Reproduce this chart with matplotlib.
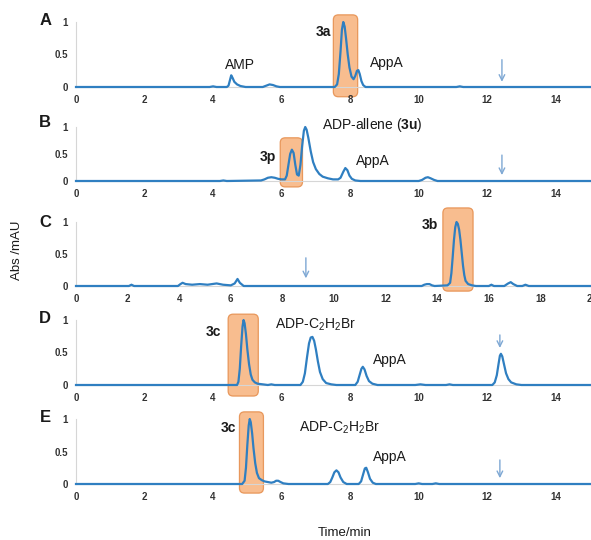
import matplotlib

matplotlib.use("Agg")
import matplotlib.pyplot as plt
from matplotlib.patches import FancyBboxPatch

plt.rcParams["font.family"] = ["Liberation Sans", "DejaVu Sans"]
plt.rcParams["mathtext.fontset"] = "custom"
plt.rcParams["mathtext.rm"] = "Liberation Sans"
plt.rcParams["mathtext.bf"] = "Liberation Sans:bold"
plt.rcParams["mathtext.default"] = "rm"

# chromatogram traces (time/min, abs)
a_time = [0, 3.9, 4.0, 4.1, 4.4, 4.45, 4.5, 4.53, 4.57, 4.62, 4.7, 4.8, 4.95,
          5.45, 5.55, 5.65, 5.75, 5.85, 5.95,
          7.55, 7.62, 7.67, 7.72, 7.76, 7.8, 7.84, 7.88, 7.93, 7.98, 8.04, 8.1, 8.15, 8.2,
          8.24, 8.28, 8.33, 8.38, 8.45, 11.1, 11.2, 11.3, 15]
a_abs = [0, 0, 0.01, 0, 0, 0.02, 0.12, 0.18, 0.14, 0.08, 0.04, 0.015, 0,
         0, 0.02, 0.04, 0.03, 0.01, 0,
         0, 0.04, 0.2, 0.55, 0.88, 1.0, 0.93, 0.75, 0.5, 0.3, 0.16, 0.12, 0.17, 0.25,
         0.26, 0.2, 0.09, 0.03, 0, 0, 0.01, 0, 0]

b_time = [0, 4.2, 4.3, 4.4, 5.4, 5.5, 5.6, 5.7, 5.8, 5.9, 6.0, 6.1, 6.15, 6.2, 6.25, 6.3,
          6.35, 6.4, 6.45, 6.5, 6.55, 6.6, 6.65, 6.69, 6.73, 6.78, 6.85, 6.92, 7.0, 7.1,
          7.2, 7.35, 7.5, 7.65, 7.72, 7.8, 7.86, 7.92, 7.98, 8.05, 8.15, 8.3,
          10.0, 10.1, 10.2, 10.27, 10.35, 10.45, 10.55, 15]
b_abs = [0, 0, 0.01, 0, 0.01, 0.03, 0.06, 0.07, 0.06, 0.04, 0.03, 0.03, 0.1, 0.3, 0.5, 0.58,
         0.52, 0.3, 0.12, 0.1, 0.3, 0.65, 0.93, 1.0, 0.95, 0.8, 0.55, 0.35, 0.22, 0.13,
         0.08, 0.05, 0.03, 0.03, 0.06, 0.17, 0.24, 0.2, 0.1, 0.04, 0.01, 0,
         0, 0.02, 0.06, 0.07, 0.05, 0.02, 0, 0]

c_time = [0, 2.05, 2.15, 2.25, 3.95, 4.05, 4.13, 4.25, 4.5, 4.8, 5.1, 5.45, 5.7, 6.0, 6.15,
          6.26, 6.35, 6.5, 13.4, 13.5, 13.6, 13.7, 13.8, 13.9, 14.4, 14.5, 14.55, 14.6,
          14.65, 14.7, 14.75, 14.8, 14.85, 14.9, 14.95, 15.0, 15.05, 15.1, 15.2, 15.35, 15.5,
          16.0, 16.1, 16.2, 16.6, 16.75, 16.85, 16.95, 17.1, 17.3, 17.42, 17.55, 20]
c_abs = [0, 0, 0.02, 0, 0, 0.03, 0.05, 0.03, 0.02, 0.03, 0.02, 0.04, 0.02, 0.01, 0.04,
         0.11, 0.05, 0, 0, 0.02, 0.03, 0.03, 0.01, 0, 0.01, 0.05, 0.2, 0.45,
         0.72, 0.92, 1.0, 0.97, 0.88, 0.72, 0.52, 0.32, 0.17, 0.08, 0.03, 0.01, 0,
         0, 0.02, 0, 0, 0.04, 0.06, 0.03, 0, 0, 0.02, 0, 0]

d_time = [0, 4.7, 4.74, 4.78, 4.82, 4.86, 4.89, 4.92, 4.96, 5.0, 5.05, 5.1, 5.15, 5.22,
          5.3, 5.45, 5.6, 5.7, 5.8, 6.55, 6.62, 6.68, 6.74, 6.8, 6.85, 6.9, 6.95, 7.0,
          7.06, 7.12, 7.2, 7.3, 7.45, 7.6, 8.15, 8.22, 8.28, 8.33, 8.37, 8.42, 8.48, 8.55,
          8.65, 8.8, 9.9, 10.05, 10.2, 10.8, 10.9, 11.0, 12.15, 12.22, 12.28, 12.33, 12.37,
          12.4, 12.44, 12.49, 12.55, 12.62, 12.7, 12.85, 13.0, 15]
d_abs = [0, 0, 0.05, 0.25, 0.6, 0.9, 1.0, 0.95, 0.78, 0.55, 0.32, 0.16, 0.08, 0.04,
         0.02, 0.01, 0, 0.01, 0, 0, 0.05, 0.18, 0.42, 0.64, 0.73, 0.74, 0.68, 0.55,
         0.36, 0.2, 0.09, 0.03, 0.01, 0, 0, 0.05, 0.16, 0.25, 0.28, 0.24, 0.14, 0.06,
         0.02, 0, 0, 0.01, 0, 0, 0.01, 0, 0, 0.04, 0.15, 0.32, 0.45,
         0.48, 0.44, 0.32, 0.18, 0.09, 0.04, 0.01, 0, 0]

e_time = [0, 4.6, 4.85, 4.92, 4.96, 5.0, 5.04, 5.07, 5.1, 5.14, 5.18, 5.23, 5.28, 5.34,
          5.42, 5.5, 5.6, 5.7, 5.78, 5.84, 5.9, 5.97, 6.05, 6.2, 7.35, 7.42, 7.48, 7.54,
          7.6, 7.66, 7.72, 7.8, 7.9, 8.25, 8.32, 8.38, 8.43, 8.47, 8.52, 8.58, 8.66, 8.75,
          9.9, 10.0, 10.1, 10.4, 10.5, 10.6, 15]
e_abs = [0, 0, 0, 0.05, 0.25, 0.6, 0.9, 1.0, 0.95, 0.78, 0.55, 0.32, 0.17, 0.09,
         0.06, 0.04, 0.03, 0.02, 0.03, 0.05, 0.05, 0.03, 0.01, 0, 0, 0.03, 0.1, 0.18,
         0.21, 0.18, 0.1, 0.03, 0, 0, 0.04, 0.15, 0.24, 0.25, 0.18, 0.08, 0.02, 0,
         0, 0.01, 0, 0, 0.01, 0, 0]

panel_letters = ["A", "B", "C", "D", "E"]
x_max = [15, 15, 20, 15, 15]
y_ticks = [0, 0.5, 1]
y_tick_labels = ["0", "0.5", "1"]

LINE = "#2f7fc1"
ARROW = "#7ea8d4"
BOX_FACE = "#f7b27c"
BOX_EDGE = "#e58c4a"
TEXT = "#1a1a1a"

W, H = 591, 540
fig = plt.figure(figsize=(W / 100, H / 100), dpi=100)

# axes placement in pixels: left, right, top (y=1), bottom (y=0)
rects = [(76, 590, 22, 87), (76, 590, 127, 181), (76, 592, 222, 286),
         (76, 590, 320, 385), (76, 590, 419, 484)]

traces = [(a_time, a_abs), (b_time, b_abs), (c_time, c_abs), (d_time, d_abs), (e_time, e_abs)]

# highlight boxes (x0, x1, y0, y1) in data units
boxes = [(7.51, 8.22, -0.15, 1.11), (5.96, 6.61, -0.11, 0.80), (14.22, 15.39, -0.08, 1.22),
         (4.44, 5.32, -0.17, 1.09), (4.77, 5.47, -0.14, 1.11)]

# arrows (x, y_start, y_end)
arrows = [(12.43, 0.42, 0.08), (12.43, 0.48, 0.11), (8.91, 0.44, 0.12),
          (12.37, 0.77, 0.57), (12.37, 0.37, 0.09)]

axes = []
for i, (l, r, t, b) in enumerate(rects):
    ax = fig.add_axes([l / W, 1 - b / H, (r - l) / W, (b - t) / H])
    ax.set_xlim(0, x_max[i])
    ax.set_ylim(0, 1)
    ax.set_xticks(range(0, x_max[i] + 1, 2))
    ax.set_yticks(y_ticks)
    ax.set_yticklabels(y_tick_labels)
    ax.tick_params(length=0, labelsize=7, labelcolor="#333333")
    ax.tick_params(axis="x", pad=6)
    ax.tick_params(axis="y", pad=6)
    for lab in ax.get_xticklabels() + ax.get_yticklabels():
        lab.set_fontweight("bold")
    for s in ["top", "right"]:
        ax.spines[s].set_visible(False)
    ax.spines["left"].set_color("#d6d6d6")
    ax.spines["bottom"].set_color("#d6d6d6")
    ax.spines["left"].set_linewidth(0.8)
    ax.spines["bottom"].set_linewidth(0.8)

    x0, x1, y0, y1 = boxes[i]
    px_x = (r - l) / x_max[i]
    px_y = (b - t)
    box = FancyBboxPatch((x0, y0), x1 - x0, y1 - y0,
                         boxstyle="round,pad=0,rounding_size=%.3f" % (5 / px_x),
                         mutation_aspect=px_x / px_y,
                         facecolor=BOX_FACE, edgecolor=BOX_EDGE, linewidth=0.9,
                         alpha=0.85, clip_on=False, zorder=1)
    ax.add_patch(box)

    tx, ty = traces[i]
    ax.plot(tx, ty, color=LINE, linewidth=1.6, clip_on=False, zorder=3,
            solid_joinstyle="round")

    ax_x, ay0, ay1 = arrows[i]
    ax.annotate("", xy=(ax_x, ay1), xytext=(ax_x, ay0),
                arrowprops=dict(arrowstyle="->", color=ARROW, lw=1.0,
                                shrinkA=0, shrinkB=0, mutation_scale=10),
                annotation_clip=False)
    axes.append(ax)

# panel letters
letter_pos = [(-0.88, 1.03), (-0.9, 1.09), (-1.2, 1.0), (-0.9, 1.03), (-0.9, 1.03)]
for ax, letter, (lx, ly) in zip(axes, panel_letters, letter_pos):
    ax.text(lx, ly, letter, fontsize=12, fontweight="bold", color=TEXT,
            ha="center", va="center", clip_on=False)

lab = dict(fontsize=10, color=TEXT, ha="center", va="center", clip_on=False)
cpd = dict(fontsize=10, fontweight="bold", color=TEXT, ha="center", va="center")

a, b, c, d, e = axes
a.text(7.21, 0.85, "3a", **cpd)
a.text(4.79, 0.34, "AMP", **lab)
a.text(9.08, 0.37, "AppA", **lab)

b.text(5.6, 0.44, "3p", **cpd)
b.text(8.64, 1.04, "ADP-allene ($\\mathbf{3u}$)", **lab)
b.text(8.67, 0.37, "AppA", **lab)

c.text(13.72, 0.95, "3b", **cpd)

d.text(4.0, 0.82, "3c", **cpd)
d.text(6.98, 0.92, "ADP-C$_2$H$_2$Br", **lab)
d.text(9.16, 0.38, "AppA", **lab)

e.text(4.44, 0.86, "3c", **cpd)
e.text(7.7, 0.86, "ADP-C$_2$H$_2$Br", **lab)
e.text(9.16, 0.42, "AppA", **lab)

fig.text(345 / W, 1 - 533 / H, "Time/min", fontsize=9.5, color=TEXT, ha="center", va="center")
fig.text(17 / W, 1 - 250 / H, "Abs /mAU", fontsize=9.5, color=TEXT, ha="center", va="center",
         rotation=90)

fig.savefig("out.png", dpi=100)
